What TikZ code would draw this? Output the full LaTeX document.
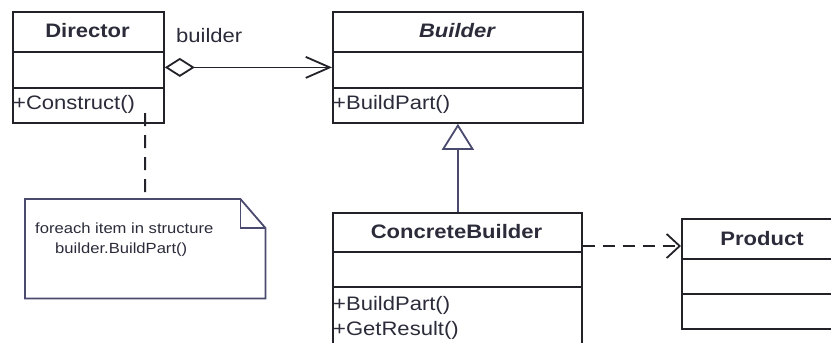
\documentclass[tikz,border=0pt]{standalone}
\usepackage{fontspec}
\setmainfont{Liberation Sans}[FakeStretch=1.13]
\usetikzlibrary{arrows.meta}
\definecolor{ink}{HTML}{2B2B3A}
\definecolor{edge}{HTML}{222228}
\definecolor{blu}{HTML}{4A4A6E}
\tikzset{
  x=1pt, y=-1pt,
  classbox/.style={draw=edge, line width=1.8pt, rectangle, inner sep=0pt, anchor=north west},
  ttl/.style={font=\fontsize{19.5}{22}\selectfont\bfseries, text=ink, inner sep=0pt, anchor=base},
  mem/.style={font=\fontsize{19.5}{22}\selectfont, text=ink, inner sep=0pt, anchor=base west},
  notetxt/.style={font=\fontsize{14.7}{17}\selectfont, text=ink, inner sep=0pt, anchor=base west},
  divider/.style={draw=edge, line width=1.8pt},
}
\begin{document}
\begin{tikzpicture}
\useasboundingbox (0,0) rectangle (831,343);
\clip (0,0) rectangle (831,343);
% Director
\node[classbox, minimum width=151pt, minimum height=111pt] (director) at (12,11) {};
\draw[divider] ([yshift=-41pt]director.north west) -- ([yshift=-41pt]director.north east);
\draw[divider] ([yshift=-77pt]director.north west) -- ([yshift=-77pt]director.north east);
\node[ttl] (dirt) at (87.5,37) {Director};
\node[mem] (dirm) at (13,109) {+Construct()};
% Builder
\node[classbox, minimum width=250pt, minimum height=111pt] (builder) at (332,11) {};
\draw[divider] ([yshift=-41pt]builder.north west) -- ([yshift=-41pt]builder.north east);
\draw[divider] ([yshift=-77pt]builder.north west) -- ([yshift=-77pt]builder.north east);
\node[ttl, font=\fontsize{19.5}{22}\selectfont\bfseries\itshape] (bt) at (457,37) {Builder};
\node[mem] (bm) at (333,109) {+BuildPart()};
% ConcreteBuilder
\node[classbox, minimum width=249pt, minimum height=170pt] (cb) at (332,212) {};
\draw[divider] ([yshift=-40pt]cb.north west) -- ([yshift=-40pt]cb.north east);
\draw[divider] ([yshift=-75pt]cb.north west) -- ([yshift=-75pt]cb.north east);
\node[ttl] (cbt) at (456.5,238) {ConcreteBuilder};
\node[mem] (cbm1) at (333,310) {+BuildPart()};
\node[mem] (cbm2) at (333,335) {+GetResult()};
% Product
\node[classbox, minimum width=200pt, minimum height=110pt] (prod) at (681,218) {};
\draw[divider] ([yshift=-41pt]prod.north west) -- ([yshift=-41pt]prod.north east);
\draw[divider] ([yshift=-76pt]prod.north west) -- ([yshift=-76pt]prod.north east);
\node[ttl] (pt) at (762,245) {Product};
% Note
\node[minimum width=240pt, minimum height=99pt, inner sep=0pt, anchor=north west] (note) at (25,199) {};
\draw[blu, line width=1.8pt, line join=miter]
  (note.north west) -- ([xshift=-25pt]note.north east) -- ([yshift=-29pt]note.north east)
  -- (note.south east) -- (note.south west) -- cycle;
\draw[blu, line width=1.8pt]
  ([xshift=-25pt]note.north east) -- ([xshift=-25pt,yshift=-29pt]note.north east) -- ([yshift=-29pt]note.north east);
\node[notetxt] (n1) at (35,233) {foreach item in structure};
\node[notetxt] (n2) at (55,253) {builder.BuildPart()};
% association
\node[font=\fontsize{19.5}{22}\selectfont, text=ink, inner sep=0pt, anchor=base west] (lbl) at (176,42) {builder};
\draw[edge, line width=1.8pt, {Diamond[open, length=30pt, width=19pt, line width=1.8pt]}-{Straight Barb[length=24pt, width=21pt, line width=1.8pt]}]
  (director.east) -- (builder.west);
% generalization
\draw[blu, line width=2pt, -{Triangle[open, length=26pt, width=32pt, line width=1.8pt]}]
  (cb.north -| builder.south) -- (builder.south);
% dependency
\coordinate (dep) at ([yshift=-34pt]cb.north east);
\draw[edge, line width=1.8pt, dash pattern=on 12pt off 8pt, -{Straight Barb[length=13pt, width=24pt, line width=1.8pt]}]
  (dep) -- (dep -| prod.west);
% note link
\coordinate (nl) at (145,113);
\draw[edge, line width=2pt, dash pattern=on 13pt off 9pt] (nl) -- (note.north);
\end{tikzpicture}
\end{document}
